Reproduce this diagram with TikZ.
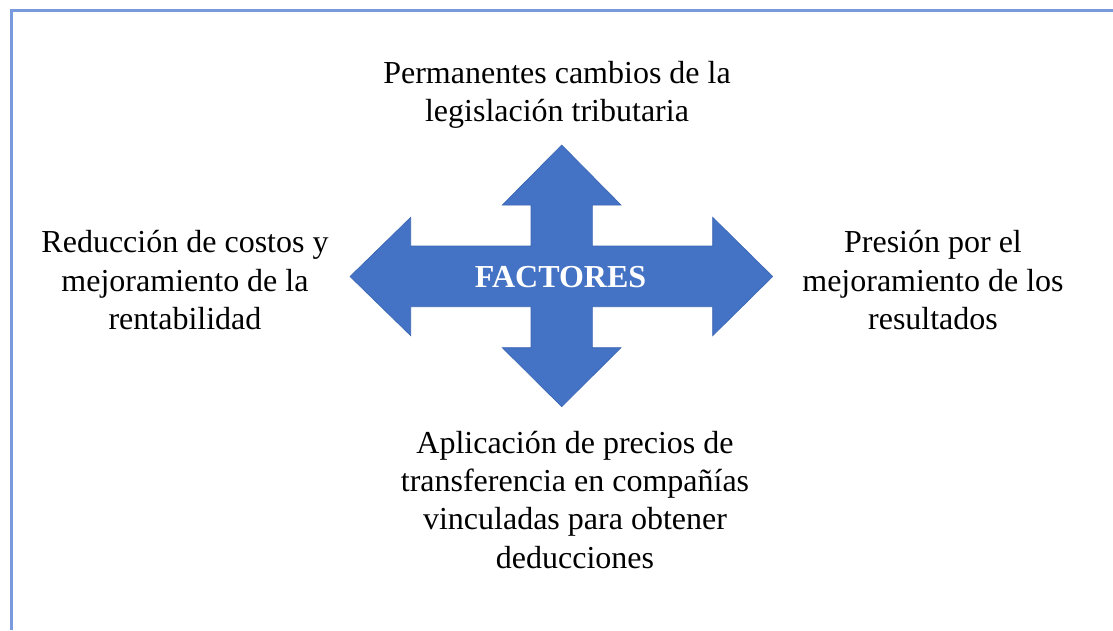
\documentclass[tikz,border=0pt]{standalone}
\usepackage{fontspec}
\setmainfont{Liberation Serif}
\definecolor{arrowblue}{HTML}{4472C4}
\definecolor{arrowedge}{HTML}{3B66B4}
\definecolor{framecol}{RGB}{122,154,222}
\begin{document}
\begin{tikzpicture}[x=1pt,y=-1pt,
  txt/.style={font=\fontsize{32}{38.2}\selectfont, align=center, inner sep=0pt, anchor=base},
  bigarrow/.style={fill=arrowblue, draw=arrowedge, line width=0.6pt, line join=miter},
  frame/.style={draw=framecol, line width=3pt}]
\useasboundingbox (0,0) rectangle (1113,630);
\fill[white] (0,0) rectangle (1113,630);
\draw[frame] (11,630) -- (11,10) -- (1113,10);
\filldraw[bigarrow]
  (561.7,145) -- (621,205) -- (592.3,205) -- (592.3,246) -- (712.7,246) -- (712.7,217.3)
  -- (772.7,276.5) -- (712.7,335.7) -- (712.7,306.7) -- (592.3,306.7) -- (592.3,347.7)
  -- (621,347.7) -- (561.7,406.7) -- (502.3,347.7) -- (531,347.7) -- (531,306.7)
  -- (410.7,306.7) -- (410.7,335.7) -- (350,276.5) -- (410.7,217.3) -- (410.7,246)
  -- (531,246) -- (531,205) -- (502.3,205) -- cycle;
\node[txt, font=\fontsize{32}{38}\selectfont\bfseries, text=white] (factores) at (560.5,287) {FACTORES};
\node[txt] (top) at (557,121.6) {Permanentes cambios de la\\legislación tributaria};
\node[txt] (left) at (185,329.3) {Reducción de costos y\\mejoramiento de la\\rentabilidad};
\node[txt] (right) at (933,329.3) {Presión por el\\mejoramiento de los\\resultados};
\node[txt] (bottom) at (575,568) {Aplicación de precios de\\transferencia en compañías\\vinculadas para obtener\\deducciones};
\end{tikzpicture}
\end{document}
